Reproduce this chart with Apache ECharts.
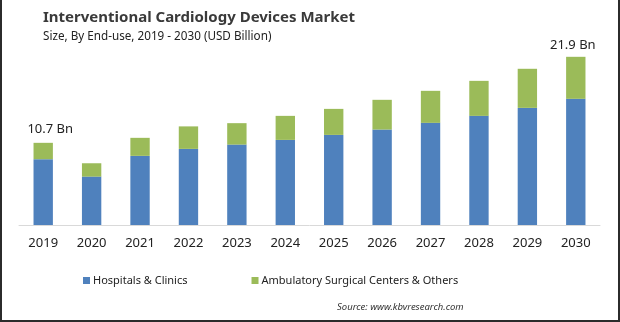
<!DOCTYPE html>
<html><head><meta charset="utf-8">
<script src="https://cdn.jsdelivr.net/npm/echarts@6/dist/echarts.min.js"></script>
<style>
html,body{margin:0;padding:0;background:#fff;}
#frame{position:absolute;left:0;top:0;width:616px;height:320px;border-left:2px solid #2b2b2b;border-right:2px solid #2b2b2b;border-bottom:2px solid #2b2b2b;}
#c{position:absolute;left:0;top:0;width:620px;height:322px;}
</style></head>
<body>
<div id="c"></div>
<div id="frame"></div>
<script>
const years = ['2019','2020','2021','2022','2023','2024','2025','2026','2027','2028','2029','2030'];
const hospitals = [8.57, 6.30, 9.00, 9.91, 10.47, 11.08, 11.73, 12.43, 13.30, 14.21, 15.25, 16.43];
const ambulatory = [2.13, 1.74, 2.35, 2.93, 2.79, 3.13, 3.39, 3.87, 4.17, 4.56, 5.09, 5.47];
const totalLabels = {0: '10.7 Bn', 11: '21.9 Bn'};
const seriesNames = ['Hospitals & Clinics', 'Ambulatory Surgical Centers & Others'];

const labelOffsets = {0: [7, -2], 11: [-3, 0]};
const ambData = ambulatory.map((v, i) => labelOffsets[i]
  ? {value: v, label: {offset: labelOffsets[i]}}
  : v);

const chart = echarts.init(document.getElementById('c'), null, {renderer:'canvas'});
const font = 'Noto Sans';
chart.setOption({
  animation:false,
  backgroundColor:'#fff',
  title:[
    {text:'Interventional Cardiology Devices Market', left:43, top:10, padding:0,
     textStyle:{fontFamily:font, fontSize:15, fontWeight:'bold', color:'#3a3a3a'}},
    {text:'Size, By End-use, 2019 - 2030 (USD Billion)', left:43, top:31, padding:0,
     textStyle:{fontFamily:font, fontSize:11.7, fontWeight:'normal', color:'#222'}},
    {text:'Source: www.kbvresearch.com', left:337, top:302, padding:0,
     textStyle:{fontFamily:font, fontSize:9.5, fontStyle:'italic', fontWeight:'normal', color:'#333'}}
  ],
  legend:{
    data:seriesNames, top:270, left:78, itemWidth:7, itemHeight:7, itemGap:64,
    icon:'rect',
    textStyle:{fontFamily:font, fontSize:11, color:'#222', padding:[0,0,0,-2]}
  },
  grid:{left:19, right:20, top:33, height:192},
  xAxis:{
    type:'category', data:years,
    axisLine:{lineStyle:{color:'#d9d9d9'}},
    axisTick:{show:false},
    axisLabel:{fontFamily:font, fontSize:13, color:'#222', margin:12}
  },
  yAxis:{type:'value', min:0, max:25, show:false, splitLine:{show:false}},
  series:[
    {name:seriesNames[0], type:'bar', stack:'a', data:hospitals, barWidth:'40%',
     itemStyle:{color:'#4f81bd'}},
    {name:seriesNames[1], type:'bar', stack:'a', data:ambData, barWidth:'40%',
     itemStyle:{color:'#9bbb59'},
     label:{show:true, position:'top', distance:5, fontFamily:font, fontSize:13, color:'#222',
       formatter:p => totalLabels[p.dataIndex] || ''}}
  ]
});
</script>
</body></html>
